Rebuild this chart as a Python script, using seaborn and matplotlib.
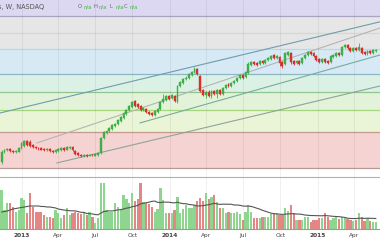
import numpy as np
import pandas as pd
import matplotlib
matplotlib.use("Agg")
import matplotlib.pyplot as plt
import matplotlib.dates as mdates
import seaborn as sns

sns.set_style("white")
plt.rcParams['font.family'] = ['DejaVu Sans']

# ---------------- data ----------------
dates = pd.date_range("2012-11-12", periods=133, freq="7D")

opens = [21.5, 24, 24.5, 24.6, 24.25, 24, 24, 25, 25.5, 26.75, 26.5, 25.75, 25.25, 25, 25, 24.75,
         24.5, 24.75, 24.25, 24, 24.25, 24.5, 25, 24.5, 25, 25.25, 24.25, 23.75, 23.25, 23, 23.25, 23,
         23.25, 23, 23.25, 23.75, 27.5, 28.75, 29.25, 29.75, 30.5, 31, 31.75, 32.5, 33.5, 34.5, 35.25, 36.75,
         36, 35.5, 34.5, 34.75, 34, 33.75, 33.25, 34, 34.75, 36.5, 37, 38, 37.5, 38, 36.5, 40.5,
         41.25, 42.25, 42.5, 43.25, 44, 44.75, 43, 39.5, 38.25, 39, 38, 39.25, 38.5, 39.5, 38.5, 40,
         41, 40.5, 41.25, 41.75, 42.5, 43.25, 42.75, 43.75, 45.75, 46.5, 46.25, 46, 46.75, 46.25, 47, 47.25,
         48.25, 47.5, 47.75, 46.5, 46, 48.25, 48.75, 46.75, 46.25, 46.75, 46.25, 47.5, 48.25, 49, 48.75, 48,
         47.25, 46.5, 47.25, 46.75, 46.5, 47.75, 48, 48.75, 48.25, 50.25, 50.75, 50, 49.25, 50, 49.5, 50,
         49, 48.5, 49.25, 48.75, 49.25]
closes = [24, 24.5, 24.75, 24.25, 24, 24.25, 25, 26.25, 26.75, 25.75, 25.5, 25.25, 25, 24.9, 24.6, 24.5,
          24.75, 24.25, 24, 24.5, 24.75, 25, 24.5, 25.25, 25.25, 24.5, 23.5, 23.25, 23, 23.25, 23, 23.25,
          23.2, 23.5, 23.75, 27.5, 29, 29.25, 30, 30.75, 31, 32, 32.75, 33.75, 34.5, 35.5, 36.5, 35.5,
          35.25, 34.5, 35, 34, 33.5, 33.25, 34.25, 34.75, 36.5, 37.25, 38, 37.25, 38.25, 36.75, 40.5, 41.5,
          42.25, 42.5, 43.5, 44, 44.75, 43.5, 39.25, 38.25, 39, 38, 39.25, 38.5, 39.5, 38.5, 40, 40.75,
          40.5, 41.25, 41.75, 42.5, 43.25, 42.5, 44, 46, 46.5, 46, 45.75, 46.75, 46.25, 47, 47.5, 48,
          47.5, 48, 46.25, 45.5, 48.75, 49, 46.5, 46, 46.75, 46, 47.5, 48.25, 49, 48.5, 48, 47,
          46.5, 47.25, 46.5, 46.25, 48, 48.25, 48.75, 48.25, 50.25, 50.75, 50, 49.25, 50, 49.5, 50.25, 48.75,
          48.5, 49.25, 48.75, 49.5, 49.5]
highs = [24.4, 24.8, 25.0, 24.9, 24.5, 24.5, 25.2, 26.5, 27.0, 27.0, 26.9, 26.0, 25.5, 25.3, 25.2, 25.0,
         25.0, 24.9, 24.5, 24.7, 25.0, 25.3, 25.2, 25.5, 25.6, 25.4, 24.4, 23.9, 23.4, 23.5, 23.4, 23.5,
         23.5, 23.7, 24.0, 27.7, 29.3, 29.6, 30.3, 31.0, 31.3, 32.3, 33.0, 34.0, 34.8, 35.8, 36.8, 37.0,
         36.3, 35.7, 35.3, 35.0, 34.2, 34.0, 34.5, 35.0, 36.8, 38.5, 38.3, 38.3, 38.5, 38.2, 40.8, 41.8,
         42.5, 42.9, 43.8, 44.3, 45.2, 45.0, 43.2, 39.7, 39.3, 39.5, 39.5, 39.6, 39.8, 39.8, 40.3, 41.0,
         41.3, 41.5, 42.0, 42.8, 43.5, 43.5, 44.3, 46.4, 46.8, 46.8, 46.5, 47.0, 47.0, 47.2, 47.8, 48.3,
         48.5, 48.3, 48.0, 46.8, 49.0, 49.3, 49.0, 47.0, 47.0, 47.0, 47.8, 48.5, 49.3, 49.3, 49.0, 48.2,
         47.5, 47.5, 47.5, 47.0, 48.3, 48.5, 49.0, 49.0, 50.5, 51.0, 51.0, 50.2, 50.3, 50.3, 51.3, 50.2,
         49.2, 49.5, 49.5, 49.8, 49.8]
lows = [21.0, 23.8, 24.3, 24.0, 23.8, 23.8, 23.9, 24.8, 25.3, 25.5, 25.3, 25.0, 24.8, 24.6, 24.4, 24.3,
        24.3, 24.0, 23.8, 23.8, 24.1, 24.3, 24.3, 24.4, 24.8, 24.3, 23.3, 23.0, 22.8, 22.8, 22.8, 22.9,
        23.0, 22.9, 23.1, 23.6, 27.3, 28.5, 29.0, 29.6, 30.3, 30.8, 31.5, 32.3, 33.3, 34.3, 35.0, 35.3,
        35.0, 34.2, 34.2, 33.8, 33.2, 33.0, 33.0, 33.8, 34.5, 36.3, 36.8, 37.0, 37.2, 36.5, 36.3, 40.3,
        41.0, 42.0, 42.3, 43.0, 43.8, 43.2, 39.0, 38.0, 37.5, 37.8, 37.6, 38.2, 37.4, 38.3, 38.2, 39.8,
        40.2, 40.3, 41.0, 41.5, 42.3, 42.3, 42.5, 43.5, 45.5, 45.8, 45.5, 45.8, 46.0, 46.0, 46.8, 47.0,
        47.3, 47.3, 45.5, 45.0, 45.8, 48.0, 46.0, 45.8, 46.0, 45.8, 46.0, 47.3, 48.0, 48.2, 47.8, 46.8,
        46.3, 46.3, 46.3, 46.0, 46.3, 47.5, 47.8, 48.0, 48.0, 50.0, 49.8, 49.0, 49.0, 49.3, 49.3, 48.5,
        48.2, 48.3, 48.5, 48.5, 49.0]
volumes = [3.9, 1.9, 2.6, 2.6, 2.2, 1.7, 1.9, 3.1, 2.9, 1.6, 3.6, 2.2, 1.7, 1.7, 1.7, 1.4,
           1.2, 1.2, 1.1, 1.9, 1.6, 1.1, 1.4, 2.1, 1.4, 1.6, 1.7, 1.6, 1.5, 1.6, 1.4, 1.7,
           1.2, 0.6, 1.1, 4.6, 4.6, 1.9, 1.7, 1.7, 2.6, 2.2, 1.9, 3.4, 3.0, 2.6, 3.6, 2.8,
           3.0, 4.6, 2.7, 2.6, 2.5, 2.2, 1.7, 2.0, 4.1, 2.9, 1.6, 1.6, 1.6, 1.9, 3.2, 1.6,
           2.0, 2.4, 2.1, 2.1, 2.4, 2.8, 3.1, 2.8, 3.6, 3.0, 3.2, 3.4, 2.7, 2.1, 2.1, 1.6,
           1.7, 1.6, 1.6, 1.7, 1.5, 0.9, 1.7, 2.4, 1.7, 1.1, 1.1, 1.1, 1.2, 1.2, 1.2, 1.5,
           1.6, 1.6, 1.4, 1.4, 2.1, 1.8, 2.4, 1.6, 0.9, 0.9, 0.9, 1.2, 1.2, 0.7, 0.9, 0.9,
           1.1, 1.1, 1.6, 1.2, 0.9, 1.1, 1.2, 1.0, 1.2, 1.1, 1.0, 0.9, 0.8, 0.9, 1.6, 1.2,
           0.8, 1.1, 0.8, 0.7, 0.7]
# 20-week volume average for the first weeks (includes history before the visible range)
vol_ma_start = [1.7, 1.75, 1.8, 1.9, 2.0, 2.05, 2.1, 2.15, 2.2, 2.25, 2.3, 2.3, 2.3, 2.3,
                2.25, 2.25, 2.2, 2.2, 2.15]

fib_low, fib_high = 20.0, 58.0
fib_levels = [0, 0.236, 0.382, 0.5, 0.618, 0.786, 0.886, 1, 1.618]
fib_fill = ["#f6d3d3", "#e9f5d6", "#e2f3d9", "#dcf1e6", "#d6e9f4", "#e6e6e6", "#e6e6e6", "#dcd8f2"]
fib_line = ["#b89a94", "#c49a8c", "#a6d67e", "#8fc58f", "#8cb8c6", "#b2dbe6", "#d2dccb", "#a9a4c4", "#a9a4c4"]

# trend / channel lines: (start date, start price, end date, end price, color)
trend_lines = [
    ("2012-11-08", 33.75, "2015-06-04", 56.55, "#6f9cae"),
    ("2013-02-07", 26.25, "2015-06-04", 55.00, "#b4b4b4"),
    ("2013-10-19", 31.25, "2015-06-04", 48.25, "#78ad9a"),
    ("2013-03-28", 21.25, "2015-06-04", 40.50, "#8fa39a"),
]

tick_dates = ["2013-01-01", "2013-04-01", "2013-07-01", "2013-10-01", "2014-01-01",
              "2014-04-01", "2014-07-01", "2014-10-01", "2015-01-01", "2015-04-01"]
tick_labels = ["2013", "Apr", "Jul", "Oct", "2014", "Apr", "Jul", "Oct", "2015", "Apr"]
ohlc_letters = ["O", "H", "L", "C"]

# ---------------- figure ----------------
fig = plt.figure(figsize=(3.8, 2.4), dpi=100)
ax = fig.add_axes([0, 63 / 240, 1, 177 / 240])
axv = fig.add_axes([0, 11 / 240, 1, 52 / 240], sharex=ax)

x0 = mdates.date2num(pd.Timestamp("2012-11-08"))
x1 = mdates.date2num(pd.Timestamp("2015-06-04"))
ax.set_xlim(x0, x1)
ax.set_ylim(17.75, 62)

# fib bands
for k in range(len(fib_levels) - 1):
    lo = fib_low + (fib_high - fib_low) * fib_levels[k]
    hi = fib_low + (fib_high - fib_low) * fib_levels[k + 1]
    ax.axhspan(lo, hi, color=fib_fill[k], lw=0, zorder=0)
for k, lv in enumerate(fib_levels):
    ax.axhline(fib_low + (fib_high - fib_low) * lv, color=fib_line[k], lw=0.9, zorder=1)

tnums = [mdates.date2num(pd.Timestamp(t)) for t in tick_dates]
for t in tnums:
    ax.axvline(t, color="#000000", alpha=0.06, lw=0.7, zorder=1)
    axv.axvline(t, color="#000000", alpha=0.06, lw=0.7, zorder=0)

for d0, p0, d1, p1, c in trend_lines:
    sns.lineplot(x=[pd.Timestamp(d0), pd.Timestamp(d1)], y=[p0, p1], ax=ax,
                 color=c, lw=0.8, zorder=2)

# candles
dn = mdates.date2num(dates)
o = np.array(opens); c = np.array(closes); h = np.array(highs); l = np.array(lows)
up = c >= o
col = np.where(up, "#3fae49", "#d7302a")
ax.vlines(dn, l, h, colors=col, lw=0.6, zorder=3)
ax.bar(dn, np.abs(c - o) + 0.08, bottom=np.minimum(o, c), width=4.6, color=col,
       edgecolor=col, lw=0.3, zorder=4)

# volume
vcol = np.where(up, "#8ed68f", "#e48686")
axv.bar(dn, volumes, width=5.6, color=vcol, edgecolor="none", zorder=2)
vol_ma = pd.Series(volumes).rolling(20, min_periods=1).mean().values.copy()
vol_ma[:len(vol_ma_start)] = vol_ma_start
sns.lineplot(x=dates, y=vol_ma, ax=axv, color="#555555", lw=0.8, zorder=3)
axv.set_ylim(0, 5.2)

for a in (ax, axv):
    a.set_yticks([])
    a.set_xlabel("")
    a.set_ylabel("")
    for s in ("left", "right"):
        a.spines[s].set_visible(False)
ax.spines["top"].set_visible(False)
ax.spines["bottom"].set_visible(False)
ax.tick_params(axis="x", bottom=False, labelbottom=False)
axv.spines["top"].set_color("#b0b0b0")
axv.spines["top"].set_linewidth(0.8)
axv.spines["bottom"].set_color("#9a9a9a")
axv.spines["bottom"].set_linewidth(0.8)

axv.set_xticks(tnums)
axv.set_xticklabels(tick_labels)
axv.tick_params(axis="x", length=0, pad=3, labelsize=4.2, colors="#444444")
for lab in axv.get_xticklabels():
    if lab.get_text().isdigit():
        lab.set_fontweight("bold")
axv.set_xlim(x0, x1)

# header
fig.text(-0.004, 1 - 7 / 240, "s, W, NASDAQ", fontsize=4.8, color="#555555", va="center", ha="left")
letter_x = [78, 94, 110, 124]
for xl, lt in zip(letter_x, ohlc_letters):
    fig.text(xl / 380, 1 - 7 / 240, lt, fontsize=3.8, color="#666666", va="center", ha="left")
    fig.text((xl + 5) / 380, 1 - 7 / 240, "n/a", fontsize=3.8, color="#4cb050", va="center", ha="left")

fig.savefig("out.png", dpi=100)
